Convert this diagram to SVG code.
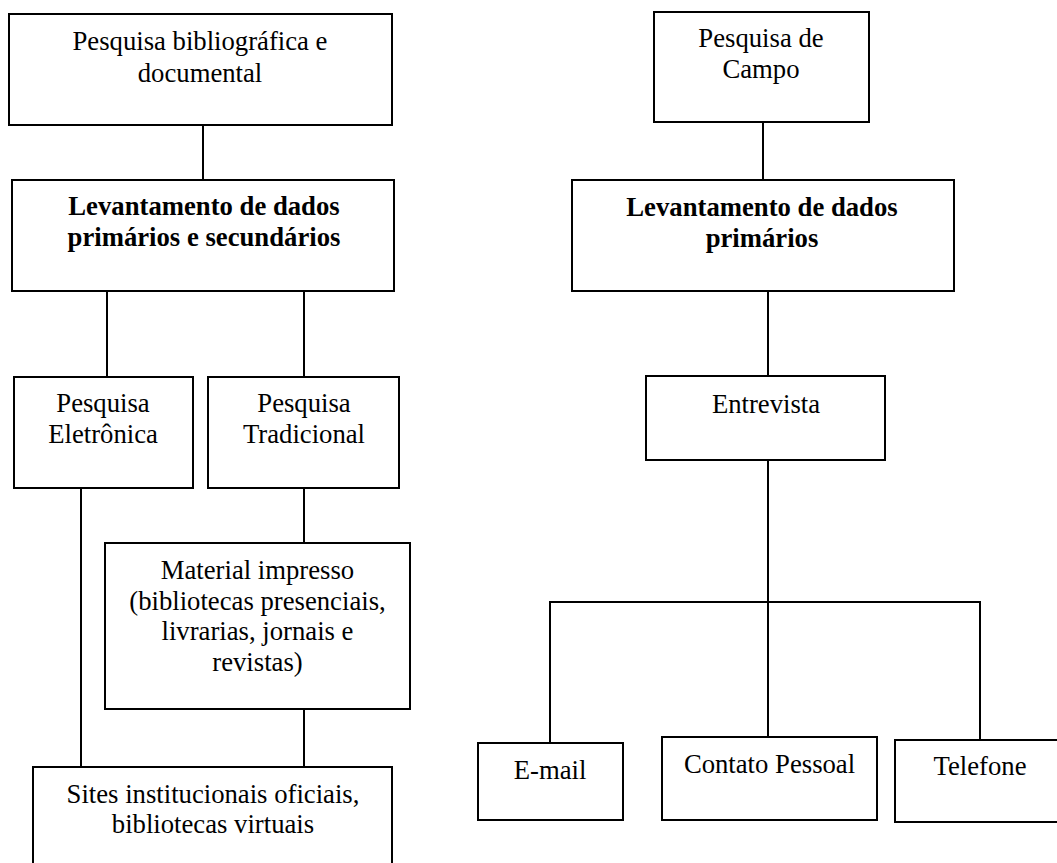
<svg xmlns="http://www.w3.org/2000/svg" width="1057" height="863" viewBox="0 0 1057 863">
<style>
.box{fill:#fff;stroke:#000;stroke-width:2}
.c{fill:none;stroke:#000;stroke-width:2}
text{font-family:"Liberation Serif","Times New Roman",serif;font-size:26.7px;fill:#000;text-anchor:middle}
.b{font-weight:bold}
</style>
<rect width="1057" height="863" fill="#fff"/>
<g id="connectors">
<path class="c" d="M203,125V180"/>
<path class="c" d="M107,291V377"/>
<path class="c" d="M304,291V377"/>
<path class="c" d="M81,488V767"/>
<path class="c" d="M304,488V543"/>
<path class="c" d="M304,709V767"/>
<path class="c" d="M763,122V180"/>
<path class="c" d="M768,291V376"/>
<path class="c" d="M768,460V737"/>
<path class="c" d="M550,743V602H980V740"/>
</g>
<g id="n1"><rect class="box" x="9" y="14" width="383" height="111"/><text x="200" y="50">Pesquisa bibliográfica e</text><text x="200" y="82">documental</text></g>
<g id="n2"><rect class="box" x="12" y="180" width="382" height="111"/><text class="b" x="204" y="215">Levantamento de dados</text><text class="b" x="204" y="246">primários e secundários</text></g>
<g id="n3"><rect class="box" x="14" y="377" width="179" height="111"/><text x="103" y="412">Pesquisa</text><text x="103" y="443">Eletrônica</text></g>
<g id="n4"><rect class="box" x="208" y="377" width="191" height="111"/><text x="304" y="412">Pesquisa</text><text x="304" y="443">Tradicional</text></g>
<g id="n5"><rect class="box" x="105" y="543" width="305" height="166"/><text x="257.5" y="579">Material impresso</text><text x="257.5" y="609.5">(bibliotecas presenciais,</text><text x="257.5" y="640">livrarias, jornais e</text><text x="257.5" y="670.5">revistas)</text></g>
<g id="n6"><rect class="box" x="33" y="767" width="359" height="140"/><text x="213" y="803">Sites institucionais oficiais,</text><text x="213" y="833">bibliotecas virtuais</text></g>
<g id="n7"><rect class="box" x="654" y="12" width="215" height="110"/><text x="761" y="47">Pesquisa de</text><text x="761" y="78">Campo</text></g>
<g id="n8"><rect class="box" x="572" y="180" width="382" height="111"/><text class="b" x="762" y="216">Levantamento de dados</text><text class="b" x="762" y="247">primários</text></g>
<g id="n9"><rect class="box" x="646" y="376" width="239" height="84"/><text x="766" y="413">Entrevista</text></g>
<g id="n10"><rect class="box" x="478" y="743" width="145" height="77"/><text x="550" y="779">E-mail</text></g>
<g id="n11"><rect class="box" x="662" y="737" width="215" height="83"/><text x="769.5" y="773">Contato Pessoal</text></g>
<g id="n12"><rect class="box" x="895" y="740" width="180" height="82"/><text x="980" y="775">Telefone</text></g>
</svg>
